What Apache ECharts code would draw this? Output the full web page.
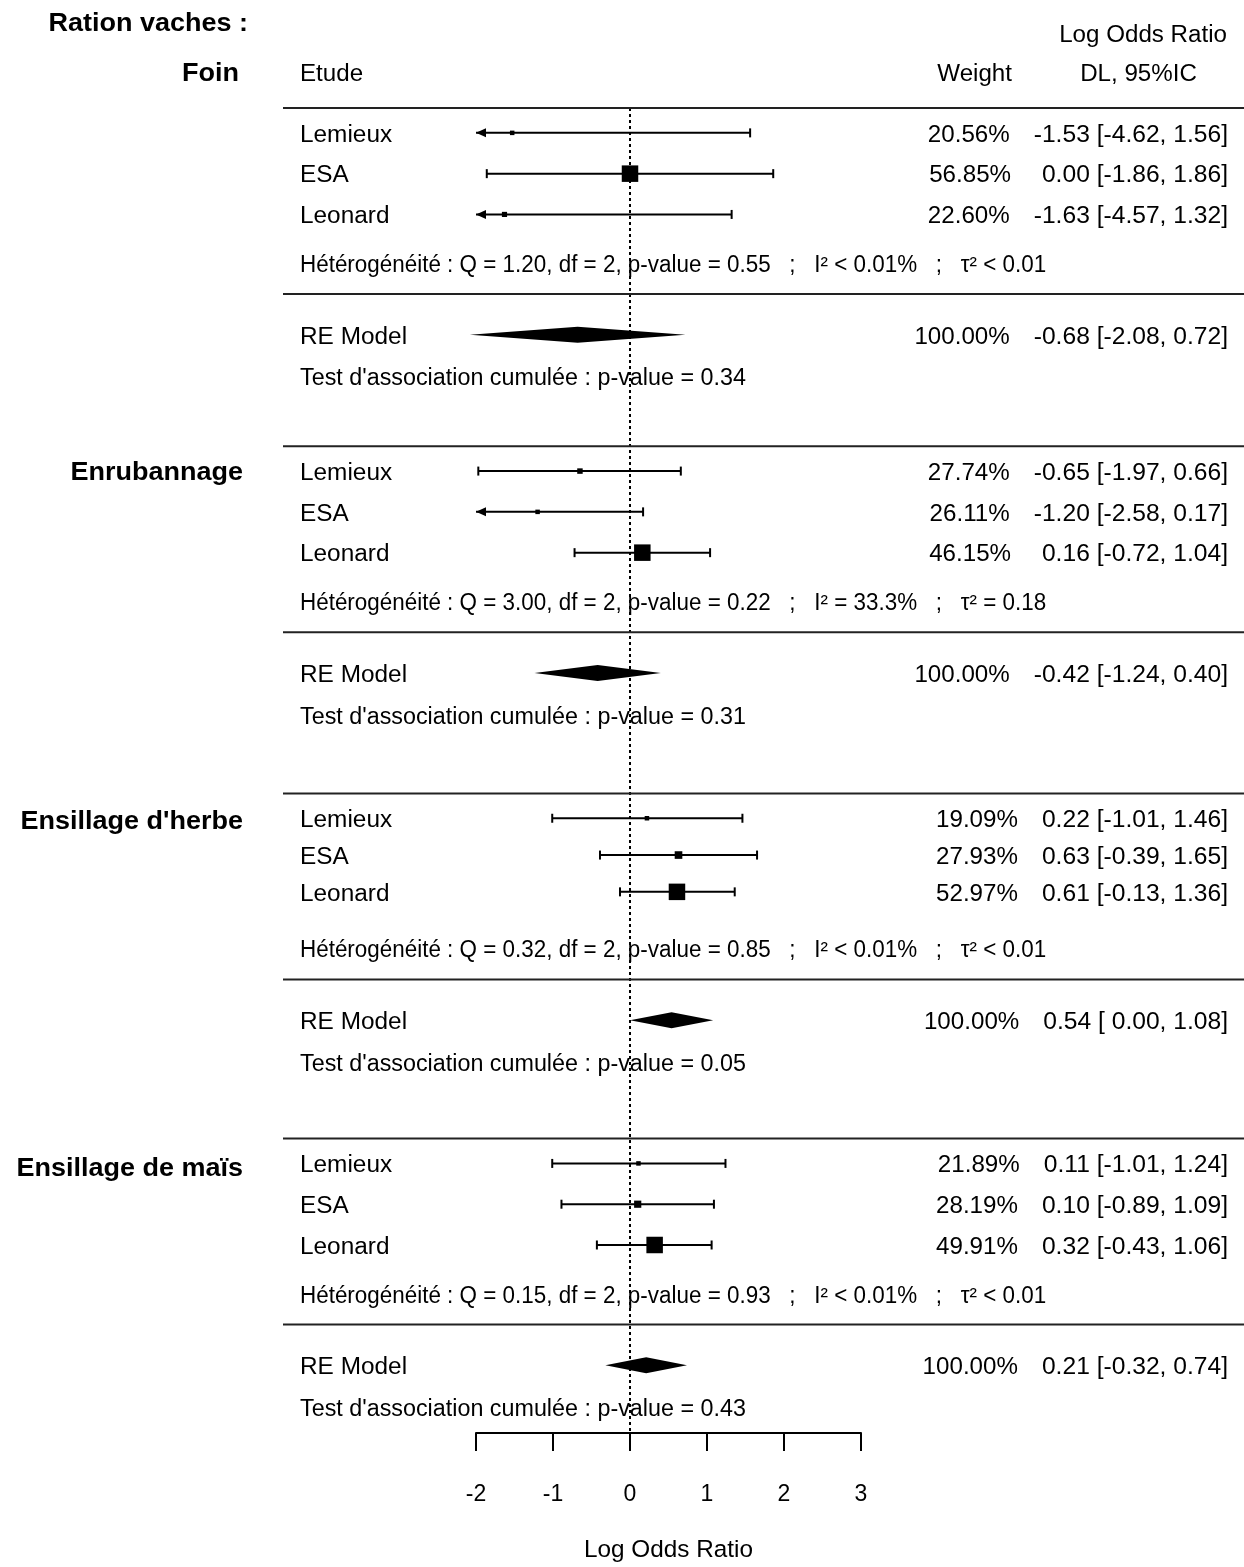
<!DOCTYPE html>
<html>
<head>
<meta charset="utf-8">
<script src="https://cdn.jsdelivr.net/npm/echarts@6/dist/echarts.min.js"></script>
<style>
  html, body { margin: 0; padding: 0; background: #fff; }
  #chart { width: 1244px; height: 1567px; }
</style>
</head>
<body>
<div id="chart"></div>
<script>
// ---- data ----
var groupNames = ['Foin', 'Enrubannage', "Ensillage d'herbe", 'Ensillage de maïs'];
var studyNames = ['Lemieux', 'ESA', 'Leonard'];

var weights = [[20.56, 56.85, 22.60], [27.74, 26.11, 46.15], [19.09, 27.93, 52.97], [21.89, 28.19, 49.91]];
var estimates = [[-1.53, 0.00, -1.63], [-0.65, -1.20, 0.16], [0.22, 0.63, 0.61], [0.11, 0.10, 0.32]];
var lowers = [[-4.62, -1.86, -4.57], [-1.97, -2.58, -0.72], [-1.01, -0.39, -0.13], [-1.01, -0.89, -0.43]];
var uppers = [[1.56, 1.86, 1.32], [0.66, 0.17, 1.04], [1.46, 1.65, 1.36], [1.24, 1.09, 1.06]];

var reEst = [-0.68, -0.42, 0.54, 0.21];
var reLow = [-2.08, -1.24, 0.00, -0.32];
var reUp = [0.72, 0.40, 1.08, 0.74];

var hetQ = ['1.20', '3.00', '0.32', '0.15'];
var hetDf = 2;
var hetP = ['0.55', '0.22', '0.85', '0.93'];
var hetI2 = ['< 0.01%', '= 33.3%', '< 0.01%', '< 0.01%'];
var hetTau2 = ['< 0.01', '= 0.18', '< 0.01', '< 0.01'];
var testP = ['0.34', '0.31', '0.05', '0.43'];

var xMin = -2, xMax = 3, xStep = 1;

// ---- layout ----
var FONT = "'Liberation Sans', Arial, sans-serif";
var FS = 23;
var TY = 2.5;                            // text baseline nudge
var TOP = 108, AXIS_Y = 1440;           // header rule and x axis line
var groupStart = [0, 340, 689, 1036];   // group top rule, below header rule
var rowPitch = [41, 41, 37, 41];
var OFF = { study: 25, het: 156, rule: 187, re: 228, test: 270 };
var X_LABEL = 300, X_ANNOT = 1228, RULE_X0 = 283, RULE_X1 = 1244, ANNOT_GAP = 24;
var SX = { name: 1.06, ci: 1.07, weight: 1.05, het: 0.975, test: 1.014, head: 1.05, bold: 1.08 };

var measureCtx = document.createElement('canvas').getContext('2d');
measureCtx.font = FS + 'px ' + FONT;
function textWidth(s) { return measureCtx.measureText(s).width; }

function fmt(v) { return v.toFixed(2); }
function ciString(est, lo, hi, padEst, padLo) {
  var e = fmt(est), l = fmt(lo);
  if (padEst && est >= 0) e = ' ' + e;
  if (padLo && lo >= 0) l = ' ' + l;
  return e + ' [' + l + ', ' + fmt(hi) + ']';
}

// build series data from the arrays
var studyData = [], reData = [], noteData = [], ruleData = [0];
groupNames.forEach(function (name, g) {
  var y0 = groupStart[g];
  if (g > 0) ruleData.push(y0);
  ruleData.push(y0 + OFF.rule);
  var padEst = estimates[g].concat([reEst[g]]).some(function (v) { return v < 0; });
  var padLo = lowers[g].concat([reLow[g]]).some(function (v) { return v < 0; });
  var wMin = Math.min.apply(null, weights[g]), wMax = Math.max.apply(null, weights[g]);
  studyNames.forEach(function (sname, s) {
    var size = 4.5 + 12 * (weights[g][s] - wMin) / (wMax - wMin);
    studyData.push({
      name: sname,
      value: [estimates[g][s], lowers[g][s], uppers[g][s], y0 + OFF.study + s * rowPitch[g], size],
      weightText: fmt(weights[g][s]) + '%',
      ciText: ciString(estimates[g][s], lowers[g][s], uppers[g][s], padEst, padLo)
    });
  });
  reData.push({
    name: 'RE Model',
    value: [reEst[g], reLow[g], reUp[g], y0 + OFF.re],
    weightText: '100.00%',
    ciText: ciString(reEst[g], reLow[g], reUp[g], padEst, padLo)
  });
  noteData.push({
    value: [0, y0 + OFF.het], sx: SX.het,
    text: 'Hétérogénéité : Q = ' + hetQ[g] + ', df = ' + hetDf + ', p-value = ' + hetP[g] +
          '   ;   I² ' + hetI2[g] + '   ;   τ² ' + hetTau2[g]
  });
  noteData.push({
    value: [0, y0 + OFF.test], sx: SX.test,
    text: "Test d'association cumulée : p-value = " + testP[g]
  });
});

function textEl(x, y, str, align, sx) {
  return {
    type: 'text', x: x, y: y + TY, scaleX: sx || 1,
    style: { text: str, fill: '#000', fontSize: FS, fontFamily: FONT, align: align, verticalAlign: 'middle' }
  };
}

function annotation(children, y, item) {
  var ciW = textWidth(item.ciText) * SX.ci;
  children.push(textEl(X_LABEL, y, item.name, 'left', SX.name));
  children.push(textEl(X_ANNOT, y, item.ciText, 'right', SX.ci));
  children.push(textEl(X_ANNOT - ciW - ANNOT_GAP, y, item.weightText, 'right', SX.weight));
}

function renderStudy(params, api) {
  var item = studyData[params.dataIndex];
  var est = api.value(0), lo = api.value(1), hi = api.value(2), yv = api.value(3), sz = api.value(4);
  var pL = api.coord([Math.max(lo, xMin), yv]);
  var pR = api.coord([Math.min(hi, xMax), yv]);
  var pE = api.coord([est, yv]);
  var y = pE[1];
  var line = { stroke: '#000', lineWidth: 2 };
  var children = [{ type: 'line', shape: { x1: pL[0], y1: y, x2: pR[0], y2: y }, style: line }];
  if (lo < xMin) {
    children.push({ type: 'polygon', shape: { points: [[pL[0], y], [pL[0] + 10, y - 4.5], [pL[0] + 10, y + 4.5]] }, style: { fill: '#000' } });
  } else {
    children.push({ type: 'line', shape: { x1: pL[0], y1: y - 4.5, x2: pL[0], y2: y + 4.5 }, style: line });
  }
  if (hi > xMax) {
    children.push({ type: 'polygon', shape: { points: [[pR[0], y], [pR[0] - 10, y - 4.5], [pR[0] - 10, y + 4.5]] }, style: { fill: '#000' } });
  } else {
    children.push({ type: 'line', shape: { x1: pR[0], y1: y - 4.5, x2: pR[0], y2: y + 4.5 }, style: line });
  }
  children.push({ type: 'rect', shape: { x: pE[0] - sz / 2, y: y - sz / 2, width: sz, height: sz }, style: { fill: '#000' } });
  annotation(children, y, item);
  return { type: 'group', children: children };
}

function renderRE(params, api) {
  var item = reData[params.dataIndex];
  var yv = api.value(3);
  var pE = api.coord([api.value(0), yv]);
  var pL = api.coord([api.value(1), yv]);
  var pR = api.coord([api.value(2), yv]);
  var y = pE[1], h = 8;
  var children = [{
    type: 'polygon',
    shape: { points: [[pL[0], y], [pE[0], y - h], [pR[0], y], [pE[0], y + h]] },
    style: { fill: '#000' }
  }];
  annotation(children, y, item);
  return { type: 'group', children: children };
}

function renderNote(params, api) {
  var note = noteData[params.dataIndex];
  var p = api.coord([0, api.value(1)]);
  return textEl(X_LABEL, p[1], note.text, 'left', note.sx);
}

function renderRule(params, api) {
  var p = api.coord([0, api.value(0)]);
  return { type: 'line', shape: { x1: RULE_X0, y1: p[1], x2: RULE_X1, y2: p[1] }, style: { stroke: '#222', lineWidth: 2 } };
}

function renderZero(params, api) {
  var a = api.coord([0, 0]), b = api.coord([0, AXIS_Y - TOP]);
  return { type: 'line', shape: { x1: a[0], y1: a[1], x2: b[0], y2: b[1] }, style: { stroke: '#000', lineWidth: 2, lineDash: [3, 3] } };
}

var chart = echarts.init(document.getElementById('chart'));

function label(x, y, str, align, sx, bold) {
  return {
    type: 'text', x: x, y: y + TY, scaleX: sx,
    style: {
      text: str, fill: '#000', fontSize: bold ? 25 : FS, fontWeight: bold ? 'bold' : 'normal',
      fontFamily: FONT, align: align, verticalAlign: 'middle'
    }
  };
}

var graphics = [
  label(248, 22, 'Ration vaches :', 'right', SX.bold, true),
  label(X_LABEL, 72, 'Etude', 'left', SX.head),
  label(1012, 72, 'Weight', 'right', SX.head),
  label(1227, 33, 'Log Odds Ratio', 'right', SX.head),
  label(1140 - 57 * SX.head, 72, 'DL, 95%IC', 'left', SX.head)
];
groupNames.forEach(function (name, g) {
  var y = g === 0 ? 72 : TOP + groupStart[g] + OFF.study - 2;
  graphics.push(label(g === 0 ? 239 : 243, y, name, 'right', SX.bold, true));
});

chart.setOption({
  animation: false,
  backgroundColor: '#fff',
  grid: { left: 476, right: 1244 - 861, top: TOP, bottom: 1567 - AXIS_Y },
  xAxis: {
    type: 'value', min: xMin, max: xMax, interval: xStep,
    axisLine: { show: true, onZero: false, lineStyle: { color: '#000', width: 2 } },
    axisTick: { show: true, length: 18, lineStyle: { color: '#000', width: 2 } },
    axisLabel: { margin: 50, fontSize: FS, color: '#000', fontFamily: FONT },
    splitLine: { show: false },
    name: 'Log Odds Ratio', nameLocation: 'middle', nameGap: 105,
    nameTextStyle: { fontSize: 24.3, color: '#000', fontFamily: FONT }
  },
  yAxis: { type: 'value', min: 0, max: AXIS_Y - TOP, inverse: true, show: false },
  graphic: graphics,
  series: [
    { type: 'custom', name: 'zero', renderItem: renderZero, data: [[0, 0]], silent: true },
    { type: 'custom', name: 'rules', renderItem: renderRule, data: ruleData.map(function (v) { return [v]; }), silent: true },
    { type: 'custom', name: 'studies', renderItem: renderStudy, data: studyData, silent: true },
    { type: 'custom', name: 'RE', renderItem: renderRE, data: reData, silent: true },
    { type: 'custom', name: 'notes', renderItem: renderNote, data: noteData, silent: true }
  ]
});
</script>
</body>
</html>
